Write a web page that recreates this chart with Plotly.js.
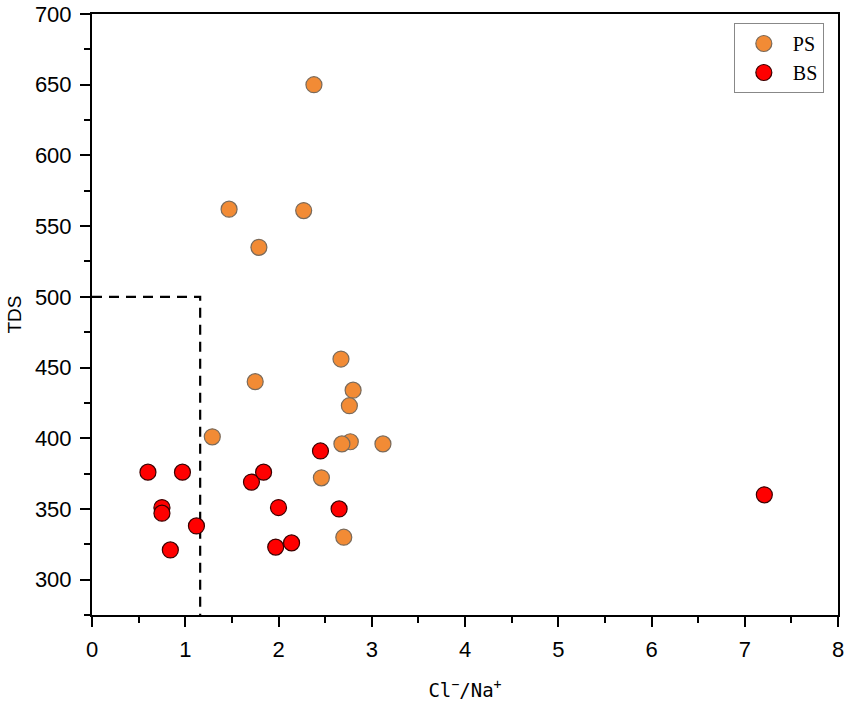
<!DOCTYPE html>
<html>
<head>
<meta charset="utf-8">
<script src="https://cdn.plot.ly/plotly-3.0.1.min.js"></script>
<style>
  body { margin: 0; background: #fff; }
  #chart { width: 851px; height: 705px; }
</style>
</head>
<body>
<div id="chart"></div>
<script>
// PS samples (orange)
const psRatio = [2.38, 1.47, 2.27, 1.79, 2.67, 1.75, 2.80, 2.76, 1.29, 2.77, 2.68, 3.12, 2.46, 2.70];
const psTDS = [650, 562, 561, 535, 456, 440, 434, 423, 401, 397.5, 396, 396, 372, 330];

// BS samples (red)
const bsRatio = [0.60, 0.97, 0.75, 0.75, 1.12, 0.84, 1.71, 1.84, 2.00, 1.97, 2.14, 2.45, 2.65, 7.21];
const bsTDS = [376, 376, 351, 347, 338, 321, 369, 376, 351, 323, 326, 391, 350, 360];

// dashed boundary lines
const boundX = [0, 1.16, 1.16];
const boundY = [500, 500, 275];

const tickFont = { family: "Liberation Sans, Arial, sans-serif", size: 22, color: "#000" };

const traces = [
  {
    x: boundX, y: boundY,
    mode: "lines", type: "scatter",
    line: { color: "#000", width: 2.2, dash: "10px,7px" },
    showlegend: false, hoverinfo: "skip",
  },
  {
    x: psRatio, y: psTDS,
    mode: "markers", type: "scatter", name: "PS",
    marker: { size: 16, color: "#F28B35", line: { color: "#7a6a5a", width: 1.2 } },
  },
  {
    x: bsRatio, y: bsTDS,
    mode: "markers", type: "scatter", name: "BS",
    marker: { size: 16, color: "#FF0000", line: { color: "#3a0000", width: 1.2 } },
  },
];

const layout = {
  width: 851, height: 705,
  margin: { l: 92, r: 13, t: 14, b: 90 },
  paper_bgcolor: "#fff", plot_bgcolor: "#fff",
  showlegend: true,
  legend: {
    x: 0.981, y: 0.985, xanchor: "right", yanchor: "top",
    bordercolor: "#888", borderwidth: 1, bgcolor: "#fff",
    font: { family: "Liberation Serif, Times New Roman, serif", size: 20, color: "#000" },
    itemwidth: 48, tracegroupgap: 0,
  },
  xaxis: {
    range: [0, 8], dtick: 1, tick0: 0,
    showgrid: false, zeroline: false,
    showline: true, linecolor: "#000", linewidth: 2, mirror: true,
    ticks: "outside", ticklen: 10, tickwidth: 2, tickcolor: "#000",
    minor: { ticks: "outside", ticklen: 6, tickwidth: 2, tickcolor: "#000", dtick: 0.5, showgrid: false },
    tickfont: tickFont, ticklabelstandoff: 4,
    title: {
      text: "Cl<sup>−</sup>/Na<sup>+</sup>",
      font: { family: "DejaVu Sans Mono, monospace", size: 19, color: "#000" },
      standoff: 22,
    },
  },
  yaxis: {
    range: [275, 700], dtick: 50, tick0: 300,
    showgrid: false, zeroline: false,
    showline: true, linecolor: "#000", linewidth: 2, mirror: true,
    ticks: "outside", ticklen: 10, tickwidth: 2, tickcolor: "#000",
    minor: { ticks: "outside", ticklen: 6, tickwidth: 2, tickcolor: "#000", dtick: 25, showgrid: false },
    tickfont: tickFont, ticklabelstandoff: 4,
    title: {
      text: "TDS",
      font: { family: "Liberation Sans, Arial, sans-serif", size: 19, color: "#000" },
      standoff: 8,
    },
  },
};

Plotly.newPlot("chart", traces, layout, { displayModeBar: false, staticPlot: true });
</script>
</body>
</html>
